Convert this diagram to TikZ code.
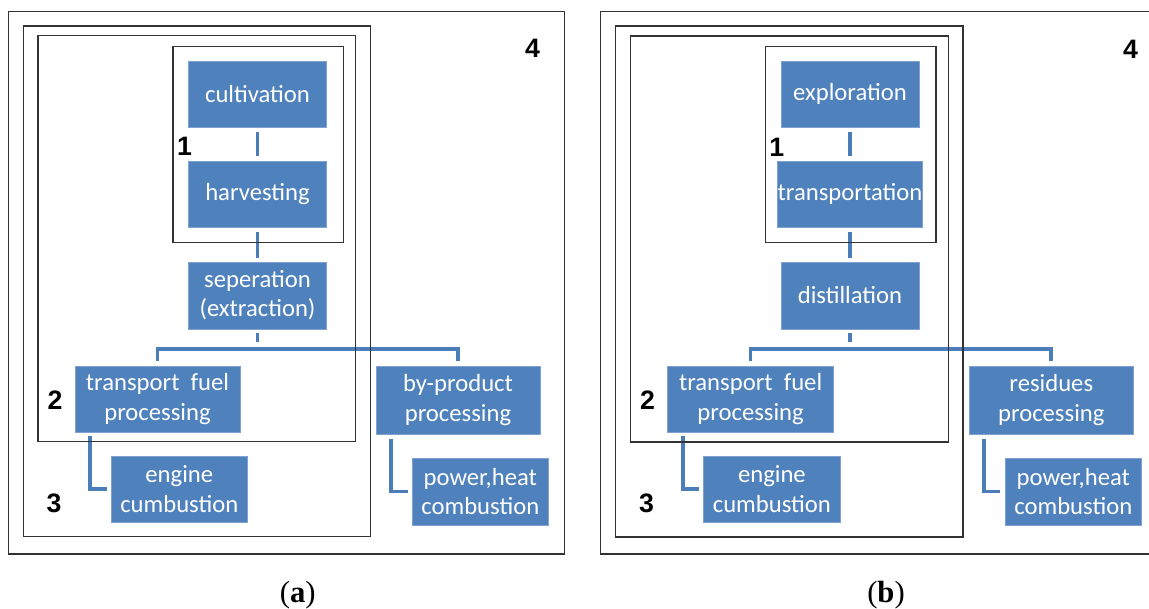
\documentclass[tikz,border=0pt]{standalone}
\usepackage{fontspec}
\setmainfont{Carlito}
\newfontfamily\numfont{Liberation Sans}
\newfontfamily\capfont{Liberation Serif}
\usetikzlibrary{calc}
\definecolor{boxblue}{HTML}{4F81BD}
\definecolor{boxedge}{HTML}{7FA2D3}
\definecolor{connblue}{HTML}{4A7DBA}
\definecolor{framegray}{HTML}{333333}
\tikzset{
  stepbox/.style={draw=boxedge, line width=0.4pt, fill=boxblue, text=white,
    align=center, inner sep=0pt, font=\fontsize{18.5}{22}\selectfont},
  sz/.style 2 args={minimum width=#1*0.75pt, minimum height=#2*0.75pt},
  conn/.style={draw=connblue, line width=2.8pt},
  frame/.style={draw=framegray, line width=1.1pt},
  numlabel/.style={font=\numfont\bfseries\fontsize{20}{24}\selectfont, inner sep=0pt},
  caplabel/.style={font=\capfont\fontsize{23}{26}\selectfont, inner sep=0pt},
}
\begin{document}
\begin{tikzpicture}[x=0.75pt,y=-0.75pt]
\useasboundingbox[fill=white] (0,0) rectangle (1149,609);

% ---------------- panel (a) ----------------
\node[stepbox,sz={138}{66}] (a-cult) at (257.5,94) {cultivation};
\node[stepbox,sz={138}{66}] (a-harv) at (257.5,194) {harvesting};
\node[stepbox,sz={138}{67}] (a-sep) at (257.5,295.5) {seperation\\(extraction)};
\node[stepbox,sz={165}{66}] (a-tfp) at (157.5,399) {transport\ \ fuel\\processing};
\node[stepbox,sz={164}{68}] (a-byp) at (458,400) {by-product\\processing};
\node[stepbox,sz={136.5}{66}] (a-eng) at (179.3,489) {engine\\cumbustion};
\node[stepbox,sz={136}{67}] (a-pow) at (480.3,491.5) {power,heat\\combustion};

\coordinate (a-fork) at (257.5,349);
\draw[conn] ($(a-cult.south)+(0,4.5)$) -- ($(a-harv.north)+(0,-4.5)$);
\draw[conn] ($(a-harv.south)+(0,4.5)$) -- ($(a-sep.north)+(0,-4)$);
\draw[conn] ($(a-sep.south)+(0,4)$) -- ($(a-fork)+(0,-6.5)$);
\draw[conn] ($(a-tfp.north)+(0,-5)$) |- (a-fork) -| ($(a-byp.north)+(0,-5)$);
\draw[conn] ($(a-tfp.south west)+(15.5,4)$) |- ($(a-eng.west)+(-4,0)$);
\draw[conn] ($(a-byp.south west)+(15.3,4.5)$) |- ($(a-pow.west)+(-4.5,0)$);

\draw[frame] (8.4,11.7) rectangle (564.7,554);
\draw[frame] (23.5,26) rectangle (370.4,536.7);
\draw[frame] (38.1,35.7) rectangle (355.7,441.7);
\draw[frame] (173,46.3) rectangle (343.6,242.7);

\node[numlabel] (a-l4) at (532.5,48.3) {4};
\node[numlabel] (a-l1) at (184.5,146.7) {1};
\node[numlabel] (a-l2) at (55,400) {2};
\node[numlabel] (a-l3) at (54,503.3) {3};
\node[caplabel] (a-cap) at (297.8,595) {(\textbf{a})};

% ---------------- panel (b) ----------------
\node[stepbox,sz={138}{66}] (b-expl) at (850,94) {exploration};
\node[stepbox,sz={138}{66}] (b-trans) at (850,194) {transportation};
\node[stepbox,sz={138}{67}] (b-dist) at (850,295.5) {distillation};
\node[stepbox,sz={166}{66}] (b-tfp) at (750.6,399) {transport\ \ fuel\\processing};
\node[stepbox,sz={164}{68}] (b-res) at (1051.3,400) {residues\\processing};
\node[stepbox,sz={136.5}{66}] (b-eng) at (771.9,489) {engine\\cumbustion};
\node[stepbox,sz={136.6}{67}] (b-pow) at (1073.3,491.5) {power,heat\\combustion};

\coordinate (b-fork) at (850,349);
\draw[conn] ($(b-expl.south)+(0,4.5)$) -- ($(b-trans.north)+(0,-4.5)$);
\draw[conn] ($(b-trans.south)+(0,4.5)$) -- ($(b-dist.north)+(0,-4)$);
\draw[conn] ($(b-dist.south)+(0,4)$) -- ($(b-fork)+(0,-6.5)$);
\draw[conn] ($(b-tfp.north)+(0,-5)$) |- (b-fork) -| ($(b-res.north)+(0,-5)$);
\draw[conn] ($(b-tfp.south west)+(15.6,4)$) |- ($(b-eng.west)+(-4,0)$);
\draw[conn] ($(b-res.south west)+(14.7,4.5)$) |- ($(b-pow.west)+(-4.5,0)$);

\draw[frame] (1152,11.7) -- (600.7,11.7) -- (600.7,554) -- (1152,554);
\draw[frame] (615.3,26) rectangle (963,537);
\draw[frame] (630.4,36) rectangle (948.3,442);
\draw[frame] (765.7,46.3) rectangle (936.2,242.7);

\node[numlabel] (b-l4) at (1130.6,49) {4};
\node[numlabel] (b-l1) at (776.7,147) {1};
\node[numlabel] (b-l2) at (647.6,400) {2};
\node[numlabel] (b-l3) at (646.5,503.3) {3};
\node[caplabel] (b-cap) at (886,595) {(\textbf{b})};
\end{tikzpicture}
\end{document}
